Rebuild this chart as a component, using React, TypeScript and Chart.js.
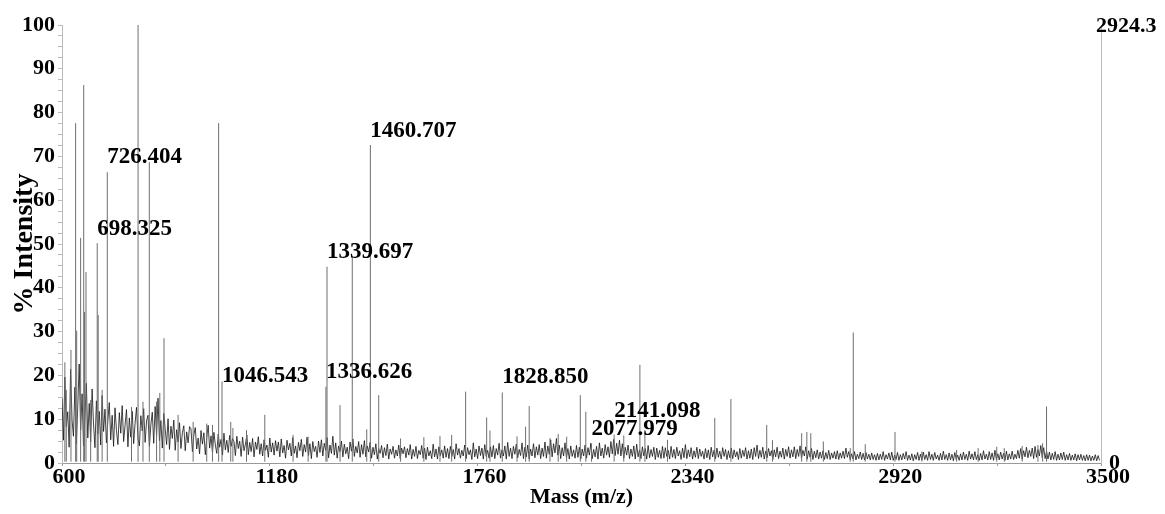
import { useEffect, useRef } from "react";
import { Chart, registerables } from "chart.js";

Chart.register(...registerables);

// Axis ranges and ticks
const massMin = 600;
const massMax = 3500;
const massLabelStep = 580;
const massMinorStep = 290;
const intensityMax = 100;
const intensityLabelStep = 10;
const intensityMinorStep = 2.5;
const maxCounts = 2924.3;

// Baseline noise, sampled every noiseStep Da starting at noiseStart
const noiseStart = 600;
const noiseStep = 4;
const noiseLevels = [
  14.8, 5.2, 19.6, 8.3, 11.7, 3.6, 21.4, 9.8, 6.1, 17.3, 4.4, 12.9, 22.6, 7.5, 15.8, 3.9, 10.4, 18.2, 5.7, 13.6, 4.8, 16.9, 8.9, 3.5, 14.2, 6.6, 11.8, 4.1, 15.4, 7.2,
  12.3, 4.6, 9.7, 13.8, 5.3, 10.9, 3.8, 12.6, 7.4, 4.2, 11.5, 6.8, 13.1, 4.9, 8.6, 12.2, 3.7, 10.3, 5.9, 11.8, 4.4, 9.1, 12.7, 5.6, 3.9, 10.8, 7.3, 12.4, 4.7, 9.6,
  10.9, 3.8, 8.7, 11.6, 4.5, 12.9, 6.2, 14.8, 5.1, 9.7, 3.4, 11.3, 7.8, 4.2, 10.1, 3.1, 8.4, 5.6, 9.8, 2.9, 7.6, 4.8, 9.2, 3.3, 6.9, 8.5, 2.8, 7.1, 4.6, 8.3,
  7.8, 2.6, 6.4, 8.1, 3.2, 5.7, 2.1, 7.4, 4.3, 6.9, 1.9, 5.8, 8.6, 3.4, 6.2, 2.3, 7.0, 4.1, 2.2, 6.6, 3.6, 5.4, 1.8, 6.8, 3.0, 5.2, 2.4, 6.3, 3.8, 5.6,
  4.9, 1.7, 6.1, 3.3, 5.0, 1.5, 5.9, 2.8, 4.3, 6.4, 1.9, 4.7, 2.6, 5.6, 1.4, 4.8, 3.1, 6.0, 2.0, 4.4, 1.6, 5.3, 2.9, 4.1, 1.3, 5.7, 2.5, 4.6, 1.8, 5.1,
  2.7, 4.8, 1.4, 5.5, 2.3, 4.0, 1.1, 5.2, 3.0, 4.5, 1.6, 5.8, 2.2, 3.9, 1.2, 4.7, 2.8, 5.4, 1.5, 4.2, 2.5, 5.9, 1.7, 4.4, 1.0, 4.9, 2.6, 3.8, 1.3, 5.0,
  2.4, 5.3, 1.6, 4.5, 2.9, 5.8, 1.2, 4.1, 2.2, 6.1, 1.8, 4.6, 1.1, 3.9, 2.6, 5.0, 1.4, 4.3, 2.1, 3.6, 1.0, 4.8, 2.7, 5.5, 1.5, 3.8, 2.3, 4.9, 1.3, 4.2,
  2.0, 5.1, 1.4, 3.9, 2.5, 4.7, 1.1, 3.6, 1.9, 4.4, 0.9, 3.3, 2.2, 4.0, 1.2, 3.5, 1.7, 4.3, 0.9, 3.2, 2.0, 3.8, 1.1, 3.0, 1.6, 4.1, 1.0, 3.4, 2.1, 3.7,
  1.2, 3.3, 1.8, 4.2, 0.9, 3.1, 1.5, 3.8, 1.0, 2.9, 1.9, 4.0, 1.1, 3.4, 0.8, 3.6, 1.6, 2.8, 1.0, 4.3, 1.4, 3.2, 0.9, 3.7, 1.7, 3.0, 1.1, 3.9, 1.3, 3.3,
  1.0, 3.8, 1.5, 3.1, 0.9, 4.4, 1.8, 3.3, 1.1, 2.9, 1.6, 4.1, 1.0, 3.5, 1.9, 3.0, 0.8, 4.6, 1.4, 3.2, 1.0, 3.9, 1.7, 3.4, 0.9, 4.2, 1.5, 2.9, 1.1, 3.7,
  1.4, 4.0, 1.0, 3.3, 1.8, 4.5, 1.1, 3.0, 1.6, 3.9, 0.9, 4.7, 1.5, 3.4, 1.0, 3.8, 2.0, 4.3, 1.2, 3.1, 1.7, 4.6, 1.0, 3.6, 1.4, 4.1, 0.9, 3.2, 1.6, 4.4,
  1.2, 3.7, 1.8, 4.2, 1.0, 3.4, 1.5, 4.8, 1.1, 3.9, 2.0, 5.3, 1.4, 4.4, 2.3, 5.6, 1.8, 4.1, 1.0, 3.5, 1.6, 4.6, 1.2, 3.3, 0.9, 3.9, 1.5, 3.0, 1.1, 4.0,
  1.3, 3.6, 0.9, 3.2, 1.6, 4.1, 1.1, 3.5, 1.8, 4.5, 1.0, 3.1, 1.4, 3.8, 0.9, 4.6, 1.6, 3.4, 1.1, 4.2, 1.8, 3.7, 1.3, 4.9, 2.1, 5.4, 1.7, 4.5, 2.0, 5.2,
  1.6, 4.4, 1.1, 3.6, 1.8, 4.1, 1.0, 3.2, 1.5, 3.9, 0.9, 4.3, 1.4, 3.0, 1.0, 3.7, 1.6, 3.3, 0.9, 4.0, 1.2, 3.1, 1.5, 3.6, 0.8, 3.4, 1.3, 2.9, 1.0, 3.8,
  1.1, 3.5, 1.5, 2.9, 0.9, 3.8, 1.3, 3.1, 1.0, 3.6, 1.6, 2.8, 0.8, 3.4, 1.2, 4.2, 1.0, 3.0, 1.4, 3.5, 0.9, 2.8, 1.3, 3.6, 1.0, 3.2, 1.5, 2.7, 0.9, 3.3,
  1.2, 3.0, 0.8, 3.6, 1.4, 2.9, 1.0, 3.4, 1.3, 2.7, 0.9, 3.5, 1.5, 3.1, 0.8, 2.8, 1.2, 3.4, 1.0, 3.0, 1.4, 2.6, 0.8, 3.3, 1.1, 2.9, 1.5, 3.5, 0.9, 2.8,
  1.1, 3.2, 0.8, 3.5, 1.5, 4.1, 1.0, 2.9, 1.3, 3.6, 0.9, 2.7, 1.2, 3.3, 1.6, 2.8, 0.8, 3.0, 1.4, 3.6, 1.0, 2.7, 1.3, 3.4, 0.9, 3.1, 1.5, 3.7, 1.1, 3.0,
  1.4, 3.7, 1.0, 3.1, 1.5, 3.9, 1.1, 2.9, 1.6, 3.7, 0.9, 2.8, 1.3, 3.3, 0.8, 2.7, 1.2, 3.0, 0.9, 2.5, 1.1, 2.8, 0.8, 2.4, 1.0, 2.9, 0.8, 2.3, 1.1, 2.6,
  0.9, 2.8, 0.8, 2.3, 1.1, 2.7, 1.0, 3.4, 1.3, 2.6, 0.8, 2.1, 0.9, 2.6, 0.7, 2.0, 1.0, 2.5, 0.8, 2.2, 0.7, 2.4, 0.9, 2.0, 0.7, 2.3, 0.8, 1.9, 0.6, 2.2,
  0.7, 2.0, 0.8, 2.6, 0.6, 1.9, 0.9, 2.3, 0.7, 2.5, 0.6, 1.8, 0.8, 2.4, 0.6, 1.9, 0.7, 2.2, 0.9, 2.6, 0.6, 1.8, 0.7, 2.1, 0.5, 1.9, 0.8, 2.4, 0.6, 2.0,
  0.7, 2.5, 0.8, 1.9, 0.6, 2.6, 0.8, 2.0, 0.6, 2.4, 0.9, 1.8, 0.6, 2.2, 0.7, 2.7, 0.8, 1.9, 0.6, 2.3, 0.7, 2.0, 0.5, 2.4, 0.8, 1.8, 0.6, 2.1, 0.7, 2.5,
  0.8, 2.0, 0.6, 2.7, 0.9, 2.1, 0.7, 2.6, 0.8, 1.9, 0.6, 2.2, 0.7, 2.8, 0.9, 2.0, 0.7, 2.6, 0.8, 2.3, 0.6, 2.9, 0.8, 2.1, 0.7, 2.5, 0.9, 2.2, 0.6, 2.7,
  0.7, 2.1, 0.9, 2.7, 0.8, 2.0, 1.0, 2.9, 1.1, 3.3, 0.9, 2.8, 1.4, 3.6, 1.2, 2.9, 1.5, 3.4, 1.0, 3.8, 1.3, 3.1, 1.6, 4.0, 1.2, 3.5, 1.0, 2.7, 0.9, 2.5,
  0.7, 2.2, 0.8, 2.6, 0.6, 2.0, 0.7, 2.3, 0.8, 2.5, 0.6, 1.9, 0.7, 2.2, 0.6, 1.8, 0.7, 2.1, 0.5, 1.9, 0.7, 2.0, 0.6, 1.7, 0.5, 1.9, 0.6, 1.8, 0.5, 1.6,
  0.6, 1.9, 0.5, 1.7, 0.6,
];

// Resolved peaks: centroid mass (m/z) and relative intensity (%)
const peakMasses = [
  608, 612, 625, 638, 641, 652, 660.6, 663, 667, 680, 698.325, 701, 712, 726.404, 794, 812.3, 826, 843.7,
  864, 873, 884.7, 924, 966, 1004, 1020, 1037.2, 1046.543, 1071, 1077, 1115, 1166, 1245, 1287,
  1336.626, 1339.697, 1376, 1410.2, 1450.6, 1460.707, 1484, 1545, 1610, 1655,
  1687.6, 1726.6, 1785.3, 1794.5, 1828.85, 1870, 1894, 1904, 1962, 1985, 2008.6, 2046.6, 2062,
  2077.979, 2141.098, 2168, 2213, 2227, 2290, 2422, 2467, 2567, 2583, 2664.5, 2679, 2690, 2725,
  2800, 2808.5, 2842, 2925, 3000, 3097, 3157, 3209, 3230, 3280, 3324, 3337, 3348,
];
const peakHeights = [
  23, 16.7, 25.8, 77.6, 30.2, 51.4, 86.3, 34.5, 43.6, 14.4, 50.2, 33.8, 16.7, 66.4, 12.8, 100, 14, 68.7,
  14, 16, 28.5, 11, 9.4, 9, 8.7, 77.6, 18.6, 9.4, 8, 7.5, 11, 6.4, 6,
  17.4, 44.8, 13.2, 46.8, 7.7, 72.6, 15.5, 5.6, 5.9, 6.2,
  6.4, 16.3, 10.4, 7.4, 16.1, 6.1, 8.3, 13, 5.7, 6.6, 6, 15.5, 11.7,
  4.4, 6.5, 6.3, 22.4, 7.5, 5.3, 10.3, 14.6, 8.7, 5.2, 6.8, 7.1, 6.8, 4.9,
  3.4, 29.8, 4.3, 7.1, 2.6, 3, 3.4, 3.7, 3.4, 3.9, 4.1, 4.5, 12.9,
];

// Annotated peaks and the intensity level at which each label's baseline sits
const labelMasses = [698.325, 726.404, 1046.543, 1336.626, 1339.697, 1460.707, 1828.85, 2077.979, 2141.098];
const labelLevels = [52, 68.5, 18.5, 19.4, 46.8, 74.4, 18.3, 6.4, 10.5];

const serif = '"Liberation Serif", "Times New Roman", serif';

const peakLabelPlugin = {
  id: "peakLabels",
  afterDatasetsDraw(chart: any) {
    const { ctx, scales } = chart;
    const x = scales.x;
    const y = scales.y;
    const y2 = scales.y2;
    ctx.save();
    ctx.fillStyle = "#000";
    ctx.textAlign = "left";
    ctx.textBaseline = "alphabetic";
    ctx.font = `bold 23px ${serif}`;
    labelMasses.forEach((m, i) => {
      ctx.fillText(m.toFixed(3), x.getPixelForValue(m), y.getPixelForValue(labelLevels[i]));
    });
    // absolute-count axis on the right: full-scale and zero
    ctx.font = `bold 22px ${serif}`;
    ctx.fillText(maxCounts.toFixed(1), y2.left - 5, y2.getPixelForValue(maxCounts) + 7);
    ctx.textBaseline = "middle";
    ctx.fillText("0", y2.left + 8, y2.getPixelForValue(0));
    ctx.restore();
  },
};

export default function App() {
  const canvasRef = useRef<HTMLCanvasElement | null>(null);

  useEffect(() => {
    const canvas = canvasRef.current;
    if (!canvas) return;

    const noisePoints = noiseLevels.map((v, i) => ({ x: noiseStart + i * noiseStep, y: v }));
    const peakPoints = peakMasses.flatMap((m, i) => [
      { x: m, y: 0.3 },
      { x: m, y: peakHeights[i] },
      { x: m, y: null as any },
    ]);

    const massTicks: number[] = [];
    for (let v = massMin; v <= massMax; v += massMinorStep) massTicks.push(v);
    const intensityTicks: number[] = [];
    for (let v = 0; v <= intensityMax; v += intensityMinorStep) intensityTicks.push(v);

    const chart = new Chart(canvas, {
      type: "scatter",
      data: {
        datasets: [
          {
            data: peakPoints,
            showLine: true,
            spanGaps: false,
            borderColor: "#6e6e6e",
            borderWidth: 1,
            pointRadius: 0,
            tension: 0,
          },
          {
            data: noisePoints,
            showLine: true,
            borderColor: "#141414",
            borderWidth: 0.8,
            pointRadius: 0,
            tension: 0,
          },
        ],
      },
      options: {
        animation: false,
        responsive: false,
        devicePixelRatio: 1,
        events: [],
        layout: { padding: { top: 25, left: 0, right: 0, bottom: 0 } },
        plugins: { legend: { display: false }, tooltip: { enabled: false } },
        scales: {
          x: {
            type: "linear",
            min: massMin,
            max: massMax,
            afterBuildTicks: (scale: any) => {
              scale.ticks = massTicks.map((v) => ({ value: v }));
            },
            afterFit: (scale: any) => {
              scale.height = 51;
            },
            ticks: {
              autoSkip: false,
              maxRotation: 0,
              padding: 0,
              labelOffset: 7,
              color: "#000",
              font: { family: serif, size: 22, weight: "bold", lineHeight: 1 },
              callback: (v: any) => ((Number(v) - massMin) % massLabelStep === 0 ? String(v) : ""),
            },
            grid: { drawOnChartArea: false, drawTicks: true, tickLength: 3, color: "#999" },
            border: { color: "#999", width: 1 },
            title: {
              display: true,
              text: "Mass (m/z)",
              color: "#000",
              font: { family: serif, size: 22, weight: "bold", lineHeight: 1 },
              padding: { top: 0, bottom: 6 },
            },
          },
          y: {
            type: "linear",
            position: "left",
            min: 0,
            max: intensityMax,
            afterBuildTicks: (scale: any) => {
              scale.ticks = intensityTicks.map((v) => ({ value: v }));
            },
            afterFit: (scale: any) => {
              scale.width = 62;
            },
            ticks: {
              autoSkip: false,
              padding: 3,
              color: "#000",
              font: { family: serif, size: 22, weight: "bold", lineHeight: 1 },
              callback: (v: any) => (Number(v) % intensityLabelStep === 0 ? String(v) : ""),
            },
            grid: { drawOnChartArea: false, drawTicks: true, tickLength: 4, color: "#bbb" },
            border: { color: "#bbb", width: 1 },
            title: {
              display: true,
              text: "% Intensity",
              color: "#000",
              font: { family: serif, size: 28, weight: "bold", lineHeight: 1 },
              padding: { top: 11, bottom: 0 },
            },
          },
          y2: {
            type: "linear",
            position: "right",
            min: 0,
            max: maxCounts,
            afterFit: (scale: any) => {
              scale.width = 64;
            },
            ticks: { display: false },
            grid: { display: false, drawOnChartArea: false },
            border: { color: "#bbb", width: 1 },
          },
        },
      },
      plugins: [peakLabelPlugin],
    });

    return () => chart.destroy();
  }, []);

  return (
    <div style={{ position: "absolute", left: 0, top: 0, width: 1165, height: 514, background: "#fff" }}>
      <canvas ref={canvasRef} width={1165} height={514} style={{ display: "block", width: 1165, height: 514 }} />
    </div>
  );
}
